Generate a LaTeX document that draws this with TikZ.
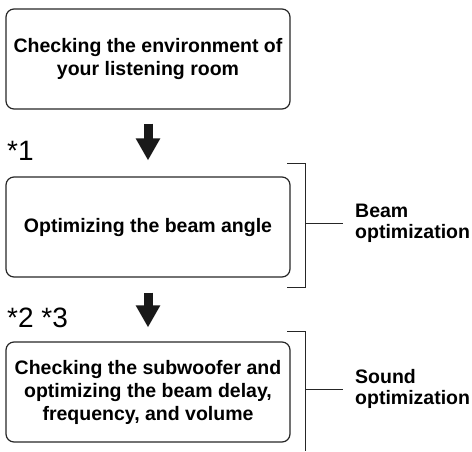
\documentclass[tikz,border=0pt]{standalone}
\usepackage{fontspec}
\setmainfont{Liberation Sans}
\usetikzlibrary{arrows.meta}
\tikzset{
  stepbox/.style={draw=black!85, line width=1.2pt, rounded corners=8pt, minimum width=284pt, minimum height=100pt, inner sep=0pt},
  boxtext/.style={align=center, font=\bfseries\fontsize{19.5}{23}\selectfont},
  sidelabel/.style={align=left, anchor=west, inner sep=0pt, font=\bfseries\fontsize{19.5}{21}\selectfont},
  noteText/.style={anchor=base west, inner sep=0pt, font=\fontsize{28}{30}\selectfont},
  bigarrow/.style={line width=9pt, -{Triangle[length=22pt,width=23pt]}, black!90},
  bracketline/.style={line width=1pt, black!85}
}
\begin{document}
\begin{tikzpicture}[x=1pt,y=-1pt]
\useasboundingbox (0,0) rectangle (472,451);
\node[stepbox, boxtext] (b1) at (148,59) {Checking the environment of\\your listening room};
\node[stepbox, boxtext] (b2) at (148,227) {Optimizing the beam angle};
\node[stepbox, boxtext] (b3) at (148,392) {Checking the subwoofer and\\optimizing the beam delay,\\frequency, and volume};
\draw[bigarrow] ([yshift=-14pt]b1.south) -- ([yshift=16pt]b2.north);
\draw[bigarrow] ([yshift=-15pt]b2.south) -- ([yshift=14pt]b3.north);
\node[noteText] (n1) at (7,160) {*1};
\node[noteText] (n2) at (7,327) {*2 *3};
% brackets
\coordinate (k1a) at (287,163);
\coordinate (k1b) at (305,163);
\coordinate (k1c) at (305,287);
\coordinate (k1d) at (287,287);
\coordinate (k1m) at (305,223);
\coordinate (k1e) at (343,223);
\draw[bracketline] (k1a) -- (k1b) -- (k1c) -- (k1d);
\draw[bracketline] (k1m) -- (k1e);
\node[sidelabel] (l1) at (355,223) {Beam\\optimization};
\coordinate (k2a) at (287,331);
\coordinate (k2b) at (305,331);
\coordinate (k2c) at (305,451);
\coordinate (k2m) at (305,389);
\coordinate (k2e) at (343,389);
\draw[bracketline] (k2a) -- (k2b) -- (k2c);
\draw[bracketline] (k2m) -- (k2e);
\node[sidelabel] (l2) at (355,389) {Sound\\optimization};
\end{tikzpicture}
\end{document}
